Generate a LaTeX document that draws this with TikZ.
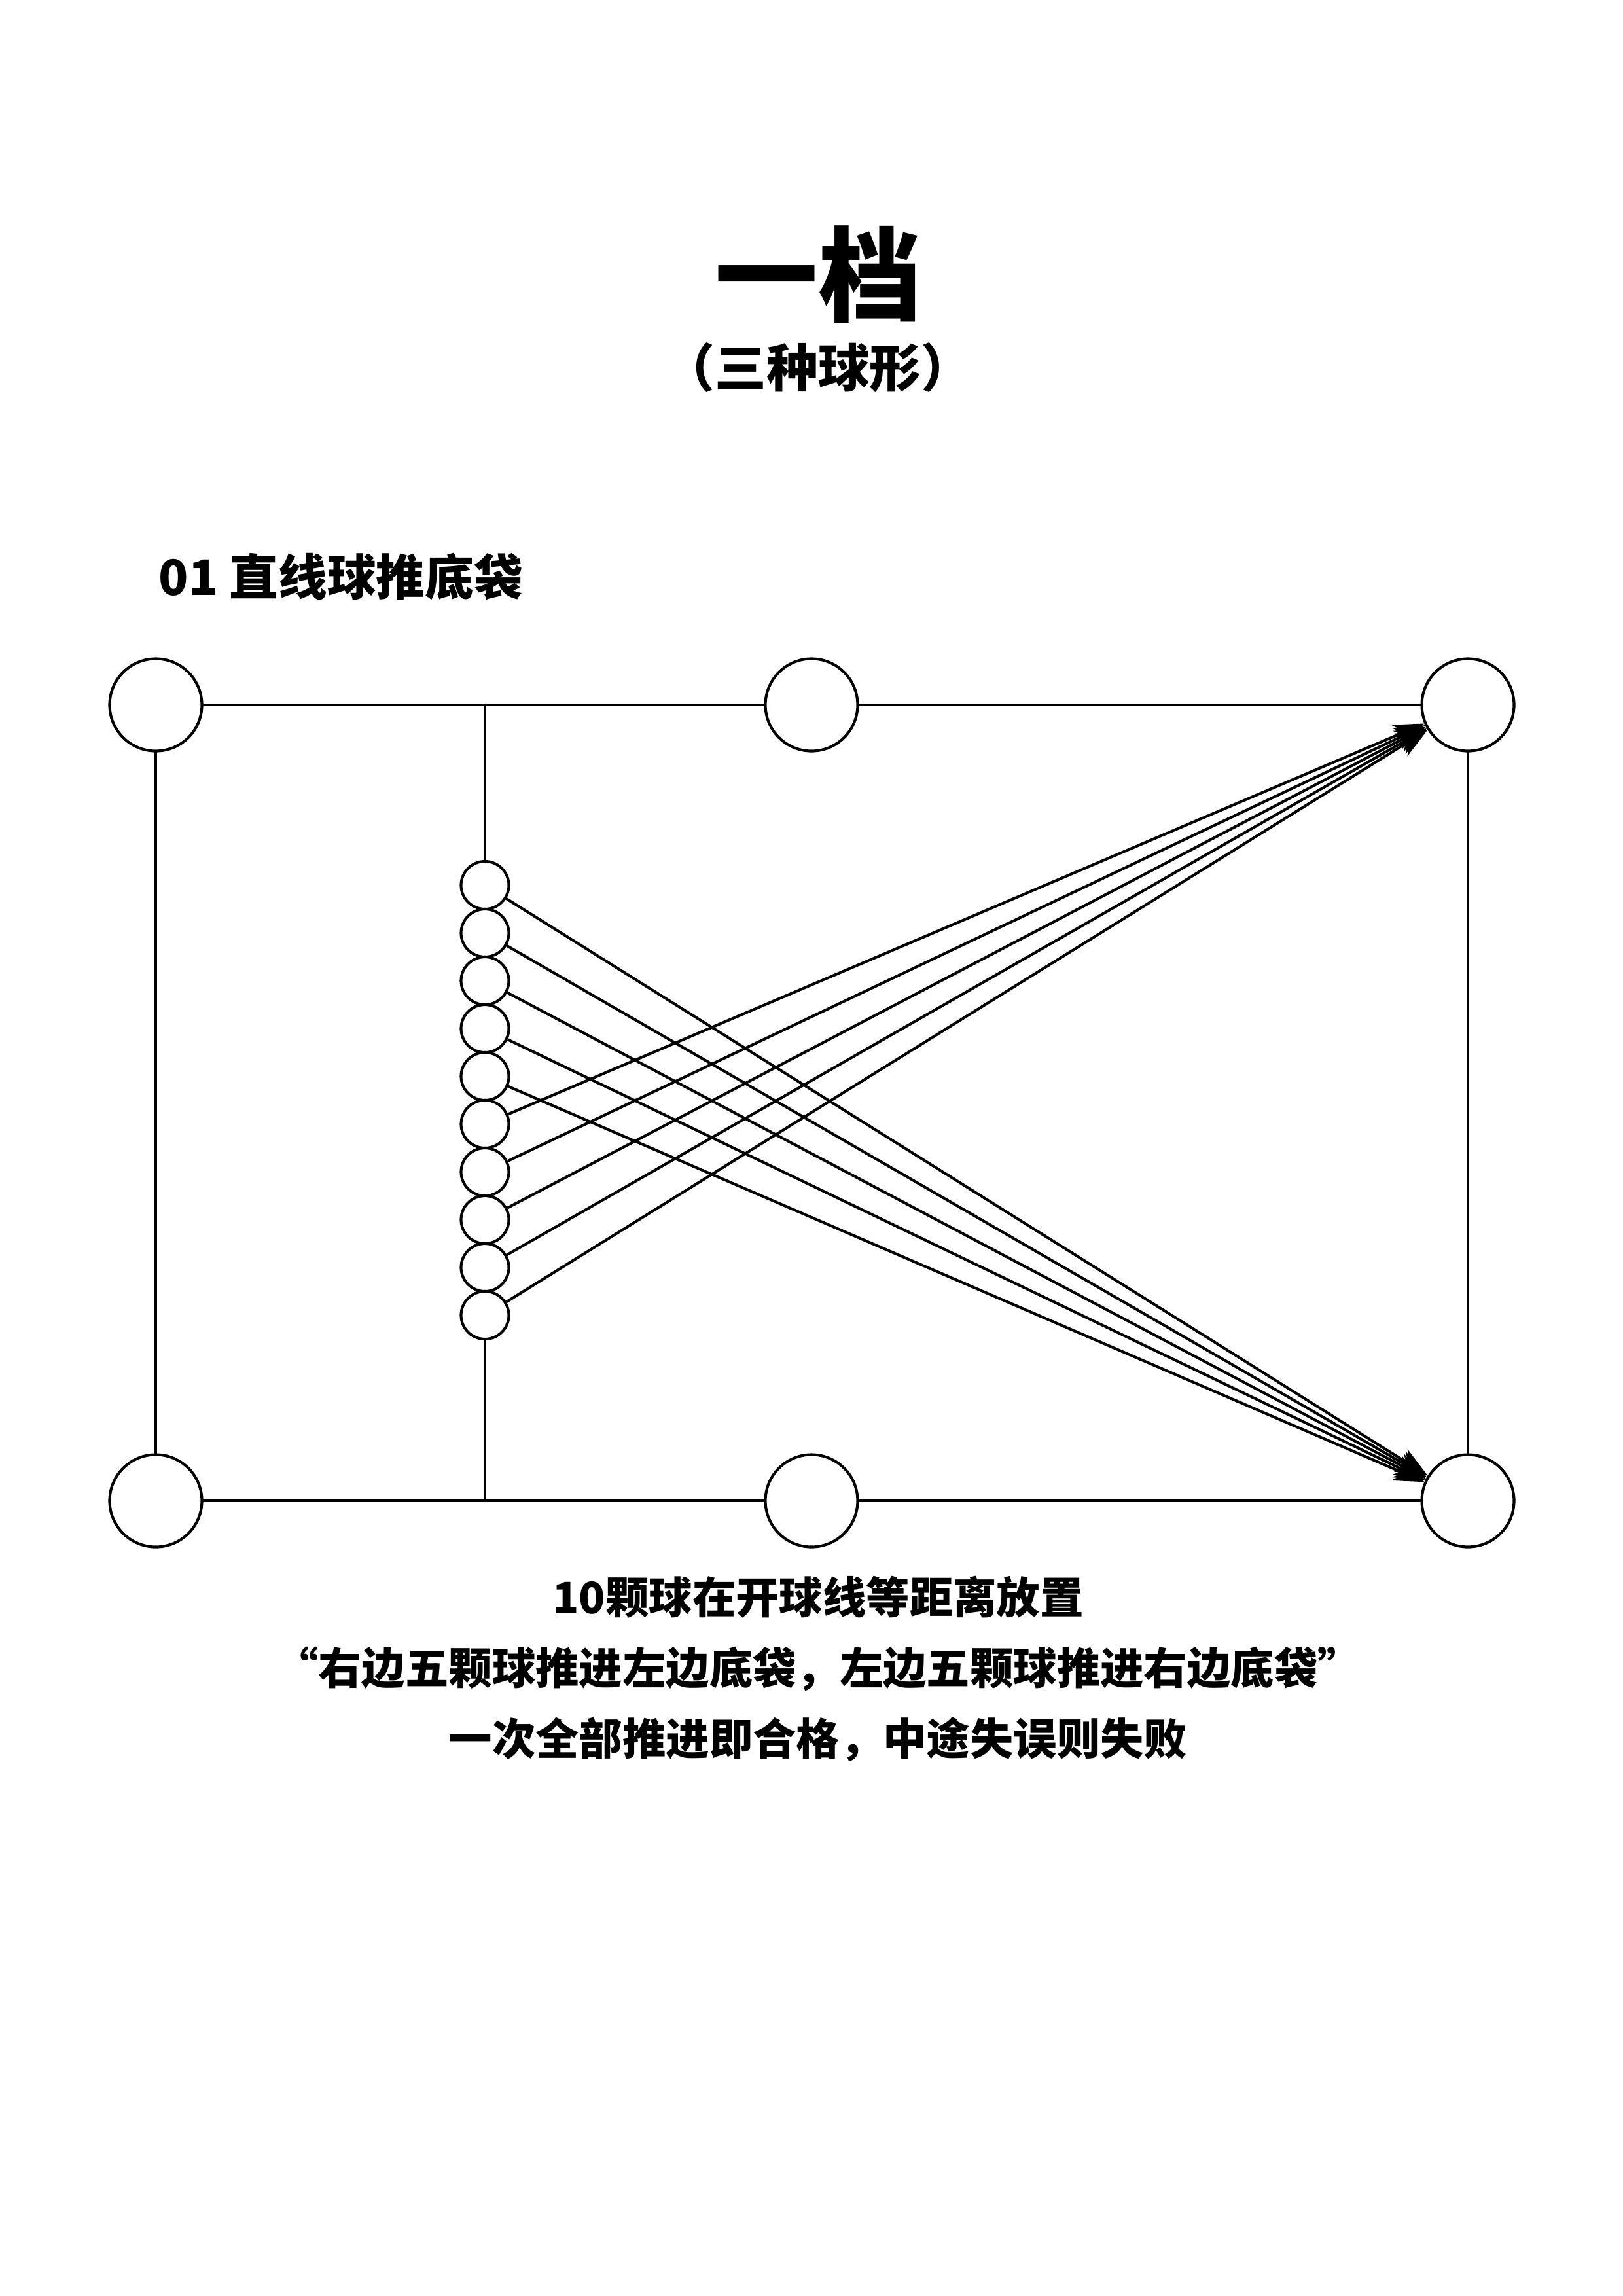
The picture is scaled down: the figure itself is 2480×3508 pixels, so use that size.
\documentclass[tikz,border=0pt]{standalone}
\usepackage{fontspec}
\newfontfamily\cjk{Noto Sans CJK SC}
\usetikzlibrary{arrows.meta}
\begin{document}
\begin{tikzpicture}[x=0.0847mm,y=-0.0847mm,
  pocket/.style={circle,draw,line width=1pt,minimum size=141*0.0847mm,inner sep=0pt,fill=white},
  ballnode/.style={circle,draw,line width=1pt,minimum size=73*0.0847mm,inner sep=0pt,fill=white},
  rail/.style={line width=1pt},
  shot/.style={line width=1pt,-{Stealth[length=4mm,width=3mm]}},
  txt/.style={font=\cjk\bfseries}]
\useasboundingbox (0,0) rectangle (2480,3508);
\coordinate (HT) at (741,1077);
\coordinate (HB) at (741,2293);
\draw[rail] (238,1077) -- (2243,1077);
\draw[rail] (238,2293) -- (2243,2293);
\draw[rail] (238,1077) -- (238,2293);
\draw[rail] (2243,1077) -- (2243,2293);
\draw[rail] (HT) -- (HB);
\node[pocket] (TL) at (238,1077) {};
\node[pocket] (TM) at (1240,1077) {};
\node[pocket] (TR) at (2243,1077) {};
\node[pocket] (BL) at (238,2293) {};
\node[pocket] (BM) at (1240,2293) {};
\node[pocket] (BR) at (2243,2293) {};
\foreach \i in {1,...,10} {
  \node[ballnode] (b\i) at (741,{1352.5+73*(\i-1)}) {};
}
\foreach \i in {1,...,5} { \draw[shot] (b\i) -- (BR); }
\foreach \i in {6,...,10} { \draw[shot] (b\i) -- (TR); }
\node[txt,font=\cjk\bfseries\fontsize{38}{44}\selectfont] (title) at (1250,420) {一档};
\node[txt,font=\cjk\bfseries\fontsize{19}{23}\selectfont] (sub) at (1250,562) {（三种球形）};
\node[txt,font=\cjk\bfseries\fontsize{18}{22}\selectfont,anchor=west] (sec) at (228,881) {01 直线球推底袋};
\node[txt,font=\cjk\bfseries\fontsize{16}{26}\selectfont,align=center,text width=20cm] (desc) at (1250,2550) {10颗球在开球线等距离放置\\“右边五颗球推进左边底袋，左边五颗球推进右边底袋”\\一次全部推进即合格，中途失误则失败};
\end{tikzpicture}
\end{document}
